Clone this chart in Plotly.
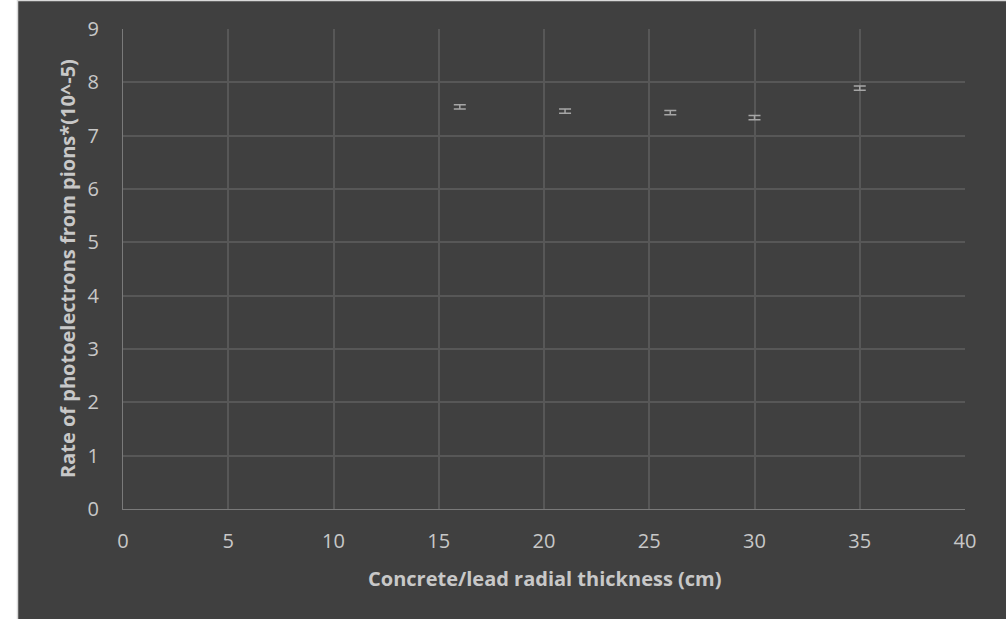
import plotly.graph_objects as go

thickness_cm = [16, 21, 26, 30, 35]
rate = [7.54, 7.46, 7.43, 7.34, 7.89]
rate_err = [0.04, 0.04, 0.04, 0.04, 0.04]

x_ticks = [0, 5, 10, 15, 20, 25, 30, 35, 40]
y_ticks = [0, 1, 2, 3, 4, 5, 6, 7, 8, 9]

x_title = "Concrete/lead radial thickness (cm)"
y_title = "Rate of photoelectrons from pions*(10^-5)"

BG = "#404040"
TXT = "#c8c8c8"
GRID = "#575757"
AXIS = "#7a7a7a"
FONT = "Open Sans"

fig = go.Figure()
fig.add_trace(go.Scatter(
    x=thickness_cm, y=rate, mode="markers",
    marker=dict(size=1, color="rgba(0,0,0,0)"),
    error_y=dict(type="data", array=rate_err, visible=True,
                 color="#a6a6a6", thickness=1.5, width=6),
    showlegend=False, hoverinfo="x+y",
))

L, R, T, B = 123, 41, 29, 110
W, H = 1006, 619
pw = W - L - R
ph = H - T - B


def px_x(p):
    return (p - L) / pw


def px_y(p):
    return 1 - (p - T) / ph


fig.update_layout(
    width=W, height=H,
    margin=dict(l=L, r=R, t=T, b=B, pad=0, autoexpand=False),
    paper_bgcolor=BG, plot_bgcolor=BG,
    font=dict(family=FONT, color=TXT, size=20),
    xaxis=dict(range=[0, 40], tickvals=x_ticks, showgrid=True, gridcolor=GRID,
               gridwidth=1.5, zeroline=False, showline=True, linecolor=AXIS,
               linewidth=1.3, ticks="", ticklabelstandoff=14, automargin=False),
    yaxis=dict(range=[0, 9], tickvals=y_ticks, showgrid=True, gridcolor=GRID,
               gridwidth=1.5, zeroline=False, showline=True, linecolor=AXIS,
               linewidth=1.3, ticks="", ticklabelstandoff=19, automargin=False),
)

fig.add_annotation(text="<b>" + x_title + "</b>", xref="paper", yref="paper",
                   x=px_x(544.5), y=px_y(578), xanchor="center", yanchor="middle",
                   showarrow=False, font=dict(size=20, color=TXT, family=FONT))
fig.add_annotation(text="<b>" + y_title + "</b>", xref="paper", yref="paper",
                   x=px_x(67), y=px_y(269), xanchor="center", yanchor="middle",
                   textangle=-90, showarrow=False,
                   font=dict(size=20, color=TXT, family=FONT))

# white strip on the left and thin light border lines (outside plot area)
fig.add_shape(type="rect", xref="paper", yref="paper",
              x0=px_x(-5), x1=px_x(17), y0=px_y(H + 5), y1=px_y(-5),
              fillcolor="white", line=dict(width=0), layer="below")
fig.add_shape(type="line", xref="paper", yref="paper",
              x0=px_x(17.5), x1=px_x(17.5), y0=px_y(H + 5), y1=px_y(0),
              line=dict(color="#d9d9d9", width=1.5))
fig.add_shape(type="line", xref="paper", yref="paper",
              x0=px_x(17), x1=px_x(W + 5), y0=px_y(0.5), y1=px_y(0.5),
              line=dict(color="#d9d9d9", width=1.5))

fig.write_html("out.html", config={"displayModeBar": False},
               post_script="document.body.style.margin='0';")
